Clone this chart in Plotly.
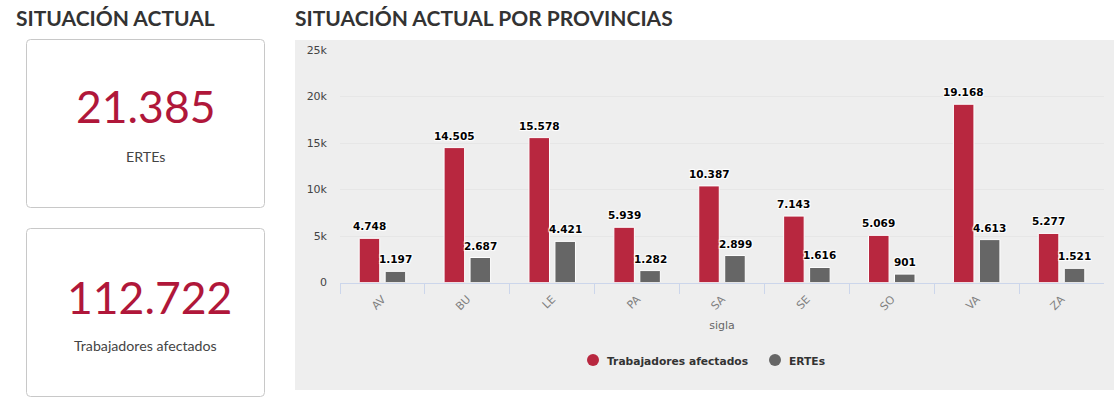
import plotly.graph_objects as go

W, H = 1114, 401

siglas = ["AV", "BU", "LE", "PA", "SA", "SE", "SO", "VA", "ZA"]
trabajadores = [4748, 14505, 15578, 5939, 10387, 7143, 5069, 19168, 5277]
ertes = [1197, 2687, 4421, 1282, 2899, 1616, 901, 4613, 1521]
y_ticks = [0, 5000, 10000, 15000, 20000, 25000]
y_labels = ["0", "5k", "10k", "15k", "20k", "25k"]
total_ertes = "21.385"
total_trabajadores = "112.722"

ROJO = "#b8273f"
GRIS = "#666666"
HALO = "1px 1px 1px #fff, -1px -1px 1px #fff, 1px -1px 1px #fff, -1px 1px 1px #fff"


def px(x):
    return x / W


def py(y):
    return 1 - y / H


def miles(v):
    return f"{v:,}".replace(",", ".")


def caja(x0, y0, x1, y1, r=4):
    # rectangulo redondeado en coordenadas de pixel
    xa, xb, ya, yb = px(x0), px(x1), py(y0), py(y1)
    rx, ry = r / W, r / H
    path = (f"M {xa + rx} {ya} L {xb - rx} {ya} Q {xb} {ya} {xb} {ya - ry} "
            f"L {xb} {yb + ry} Q {xb} {yb} {xb - rx} {yb} L {xa + rx} {yb} "
            f"Q {xa} {yb} {xa} {yb + ry} L {xa} {ya - ry} Q {xa} {ya} {xa + rx} {ya} Z")
    return dict(type="path", xref="paper", yref="paper", path=path,
                line=dict(color="#c8c8c8", width=1), fillcolor="#ffffff", layer="below")


def texto(x, y, s, size, color, anchor="center", family="Lato"):
    return dict(xref="paper", yref="paper", x=px(x), y=py(y), text=s, showarrow=False,
                xanchor=anchor, yanchor="middle",
                font=dict(family=family, size=size, color=color))


def circulo(cx, cy, color, r=6):
    return dict(type="circle", xref="paper", yref="paper", x0=px(cx - r), x1=px(cx + r),
                y0=py(cy + r), y1=py(cy - r), line=dict(width=0), fillcolor=color)


def etiquetas(valores, desplazamiento):
    # etiquetas de valor encima de cada barra
    return [dict(x=s, y=v, xref="x", yref="y", text=miles(v), showarrow=False,
                 xshift=desplazamiento, yshift=12, xanchor="center", yanchor="middle",
                 font=dict(family="DejaVu Sans", size=10.5, color="#000000", weight="bold", shadow=HALO))
            for s, v in zip(siglas, valores)]


fig = go.Figure()

# Barras
for nombre, valores, color in [("Trabajadores afectados", trabajadores, ROJO), ("ERTEs", ertes, GRIS)]:
    fig.add_trace(go.Bar(
        x=siglas, y=valores, name=nombre, showlegend=False,
        marker=dict(color=color, line=dict(color="#ffffff", width=1)),
    ))

fig.update_layout(
    width=W, height=H, autosize=False,
    margin=dict(l=0, r=0, t=0, b=0, autoexpand=False),
    paper_bgcolor="#ffffff", plot_bgcolor="rgba(0,0,0,0)",
    barmode="group", bargap=0.388, bargroupgap=0.21,
    font=dict(family="DejaVu Sans", size=11, color="#666666"),
    showlegend=False,
    shapes=[
        dict(type="rect", xref="paper", yref="paper", x0=px(295), x1=1, y0=py(40), y1=py(390),
             line=dict(width=0), fillcolor="#eeeeee", layer="below"),
        caja(26.5, 39.5, 264.5, 207.5),
        caja(26.5, 228.5, 264.5, 396.5),
        # leyenda
        circulo(593, 360, ROJO),
        circulo(775, 360, GRIS),
    ],
    annotations=[
        texto(14, 18, "<b>SITUACIÓN ACTUAL</b>", 21, "#333333", "left"),
        texto(293, 18, "<b>SITUACIÓN ACTUAL POR PROVINCIAS</b>", 21, "#333333", "left"),
        texto(145.5, 106, total_ertes, 44.5, "#b0173a"),
        texto(145.5, 157, "ERTEs", 14.2, "#444444"),
        texto(149, 296, total_trabajadores, 44.5, "#b0173a"),
        texto(145.5, 345.5, "Trabajadores afectados", 14.2, "#444444"),
        texto(604.5, 361, "<b>Trabajadores afectados</b>", 10.7, "#333333", "left", "DejaVu Sans"),
        texto(786.5, 361, "<b>ERTEs</b>", 10.7, "#333333", "left", "DejaVu Sans"),
    ] + etiquetas(trabajadores, -13) + etiquetas(ertes, 13),
)

fig.update_xaxes(
    domain=[px(340), px(1104)], type="category", categoryorder="array", categoryarray=siglas,
    tickson="boundaries", ticks="outside", ticklen=10, tickcolor="#ccd6eb", tickwidth=1,
    tickangle=-45, ticklabelstandoff=5, tickfont=dict(family="DejaVu Sans", size=11, color="#808080"),
    showline=True, linecolor="#ccd6eb", linewidth=1, showgrid=False, zeroline=False,
    automargin=False,
    title=dict(text="sigla", font=dict(family="DejaVu Sans", size=11, color="#666666"), standoff=9),
)
fig.update_yaxes(
    domain=[py(282.5), py(50)], range=[0, 25000], automargin=False,
    tickmode="array", tickvals=y_ticks, ticktext=y_labels, ticklabelstandoff=12,
    tickfont=dict(family="DejaVu Sans", size=11, color="#444444"), ticks="",
    showgrid=True, gridcolor="#e6e6e6", gridwidth=1, zeroline=False, showline=False,
)

# el navegador deja 8px de margen en body por defecto
fig.write_html("out.html", config=dict(displayModeBar=False),
               post_script="document.body.style.margin='0';document.body.style.overflow='hidden';")
